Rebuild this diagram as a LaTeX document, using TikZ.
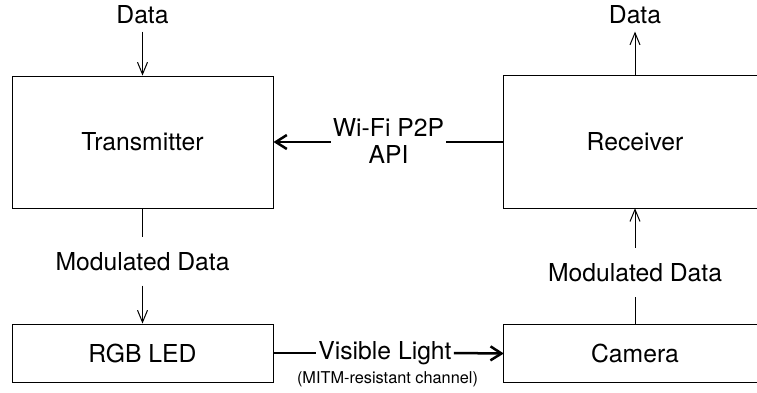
\documentclass[tikz,border=0pt]{standalone}
\usepackage{fontspec}
\setmainfont{TeX Gyre Heros}
\usetikzlibrary{arrows.meta}
\begin{document}
\begin{tikzpicture}[x=1pt,y=-1pt]
	\tikzset{box/.style={draw,line width=1pt,inner sep=0pt,font=\fontsize{24.7}{27}\selectfont},
		openbox/.style={inner sep=0pt,font=\fontsize{24.7}{27}\selectfont},
		lbl/.style={anchor=base,inner xsep=2pt,inner ysep=15pt,font=\fontsize{24.7}{27}\selectfont},
		thinarrow/.style={line width=1pt,-{Straight Barb[length=12pt,width=10pt]}},
		boldarrow/.style={line width=2.5pt,-{Straight Barb[length=11pt,width=14pt]}}}
	\useasboundingbox (0,0) rectangle (757,392);
	\node[box,minimum width=261pt,minimum height=132pt] (tx) at (142.5,142) {Transmitter};
	\node[openbox,minimum width=262pt,minimum height=132pt] (rx) at (635,142) {Receiver};
	\node[box,minimum width=261pt,minimum height=58pt] (led) at (142.5,353) {RGB LED};
	\node[openbox,minimum width=262pt,minimum height=57pt] (cam) at (635,353.5) {Camera};
	\draw[line width=1pt] (rx.north west) rectangle ([xshift=40pt]rx.south east);
	\draw[line width=1pt] (cam.north west) rectangle ([xshift=40pt]cam.south east);
	\node[lbl,inner ysep=8pt] (din) at (142.5,23) {Data};
	\node[lbl,inner ysep=8pt] (dout) at (635,23) {Data};
	\node[lbl] (modtx) at (142.5,270) {Modulated Data};
	\node[lbl] (modrx) at (635,281) {Modulated Data};
	\node[lbl,anchor=center,align=center,inner ysep=0pt] (wifi) at (388.5,141) {Wi-Fi P2P\\API};
	\node[lbl] (vis) at (385,359) {Visible Light};
	\node[anchor=base,font=\fontsize{16.3}{18}\selectfont] (mitm) at (387.5,383) {(MITM-resistant channel)};
	\draw[thinarrow] (din) -- (tx);
	\draw[thinarrow] (rx) -- (dout);
	\draw[line width=1pt] (tx) -- (modtx);
	\draw[thinarrow] (modtx) -- (led);
	\draw[line width=1pt] (cam) -- (modrx);
	\draw[thinarrow] (modrx) -- (rx);
	\draw[boldarrow] (wifi.west |- tx) -- (tx.east);
	\draw[line width=2.5pt] (rx.west) -- (rx.west -| wifi.east);
	\draw[line width=2.5pt] (led.east) -- (led.east -| vis.west);
	\draw[boldarrow] (led.east -| vis.east) -- (cam.west);
\end{tikzpicture}
\end{document}
